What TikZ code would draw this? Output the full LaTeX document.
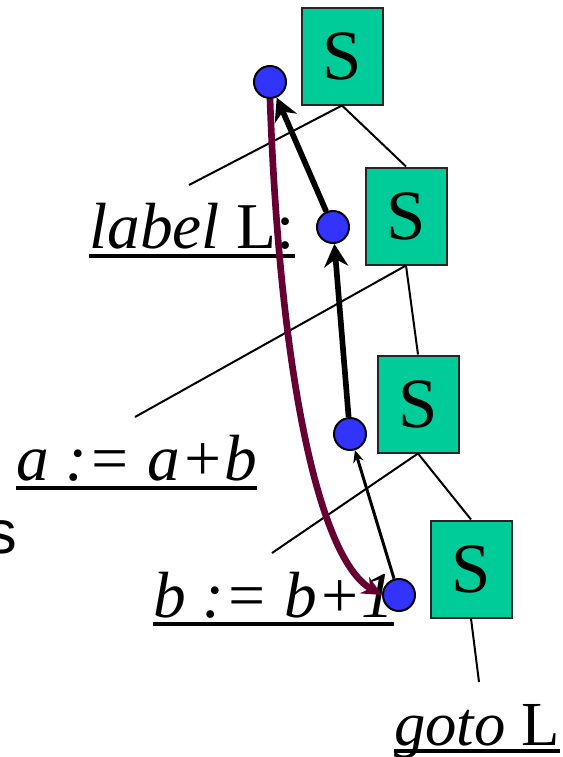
\documentclass[tikz,border=0pt]{standalone}
\usepackage{fontspec}
\setmainfont{Liberation Serif}
\newfontfamily\arialfont{Liberation Sans}
\usetikzlibrary{arrows.meta}
\definecolor{stmtGreen}{HTML}{00CC99}
\definecolor{dotBlue}{HTML}{3333FF}
\definecolor{jumpMaroon}{HTML}{660033}

\begin{document}
\begin{tikzpicture}[x=0.75pt,y=-0.75pt,font=\fontsize{49}{52}\selectfont,
  sbox/.style={draw=black!85,line width=1.5pt,fill=stmtGreen,minimum width=60.75pt,minimum height=72.75pt,inner sep=0pt,font=\fontsize{53}{56}\selectfont},
  dot/.style={circle,draw,line width=1.5pt,fill=dotBlue,minimum size=24pt,inner sep=0pt},
  stmt/.style={anchor=base west,inner sep=0pt},
  tree/.style={line width=1.5pt},
  flow/.style={line width=4.25pt,-{Stealth[length=17pt,width=18pt]}}]
  \useasboundingbox (0,0) rectangle (562,757);
  \foreach \x/\y/\name in {342/56/s1, 406/216/s2, 418/404/s3, 471/569/s4}
    \node[sbox] (\name) at (\x,\y) {S};
  \coordinate (labEnd) at (189,185);
  \coordinate (asgaEnd) at (135,417);
  \coordinate (asgbEnd) at (272,553);
  \coordinate (jmpEnd) at (479,682);
  \draw[tree] (s1.south) -- (s2.north) (s1.south) -- (labEnd);
  \draw[tree] (s2.south) -- (s3.north) (s2.south) -- (asgaEnd);
  \draw[tree] (s3.south) -- (s4.north) (s3.south) -- (asgbEnd);
  \draw[tree] (s4.south) -- (jmpEnd);
  \node[stmt] (lab) at (89,248) {\textit{label} L:};
  \node[stmt] (asga) at (16,480) {\textit{a := a+b}};
  \node[stmt] (asgb) at (153,617) {\textit{b := b+1}};
  \node[stmt,font=\fontsize{47}{50}\selectfont] (jmp) at (394,745) {\textit{goto} L};
  \node[anchor=base east,inner sep=0pt,font=\arialfont\fontsize{46}{50}\selectfont] (cut) at (17,553) {s};
  \foreach \n/\d in {lab/6pt, asga/6pt, asgb/5pt, jmp/4.5pt}
    \draw[line width=3pt] ([yshift=-\d]\n.base west) -- ([yshift=-\d]\n.base east);
  \foreach \x/\y/\name in {270/82/d1, 333/227/d2, 350/434/d3, 399/595/d4}
    \node[dot] (\name) at (\x,\y) {};
  \draw[flow] (d2) -- (d1);
  \draw[flow] (d3) -- (d2);
  \draw[line width=2.25pt,-{Stealth[length=9pt,width=8pt]}] (d4) -- (d3);
  \draw[jumpMaroon,line width=5pt,-{Stealth[length=15pt,width=14pt]}] (d1.south) .. controls (280,380) and (320,560) .. (d4.west);
\end{tikzpicture}
\end{document}
